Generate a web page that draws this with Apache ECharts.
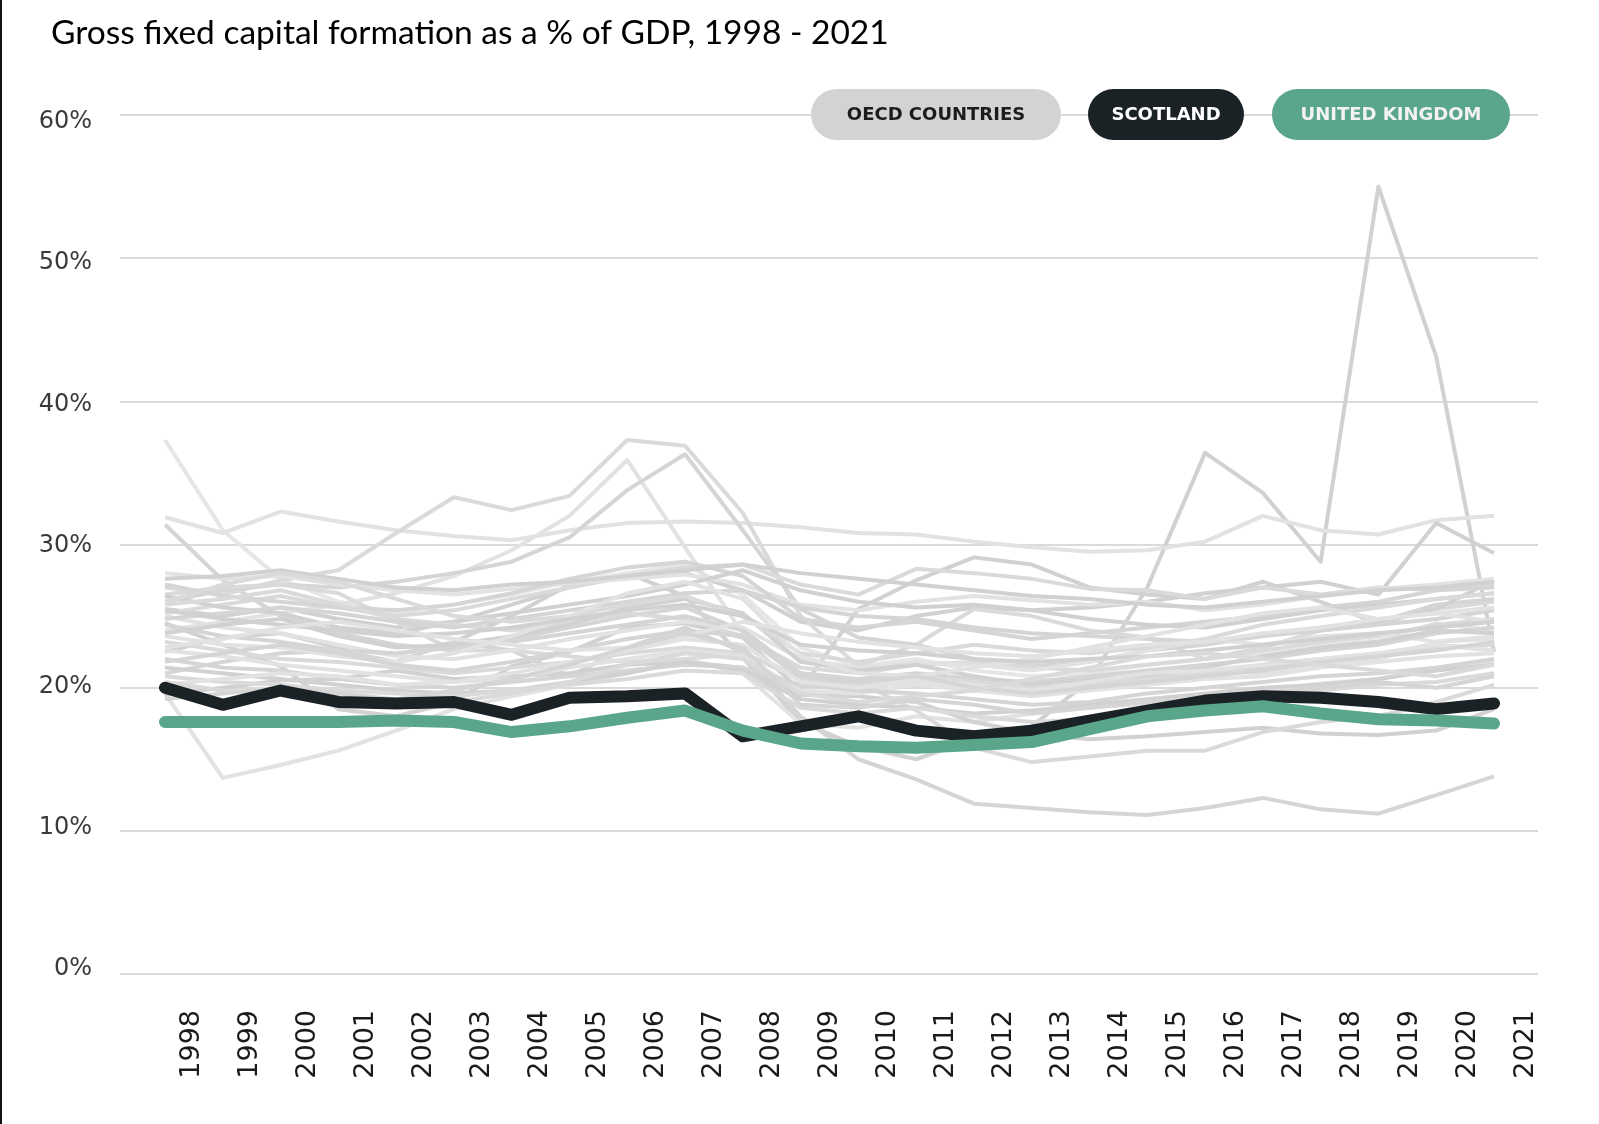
<!DOCTYPE html>
<html>
<head>
<meta charset="utf-8">
<title>Gross fixed capital formation</title>
<script src="https://cdn.jsdelivr.net/npm/echarts@6/dist/echarts.min.js"></script>
<style>
  html, body { margin: 0; padding: 0; background: #fff; }
  #chart { width: 1599px; height: 1124px; }
</style>
</head>
<body>
<div id="chart"></div>
<script>
// years on the x axis
const years = ['1998', '1999', '2000', '2001', '2002', '2003', '2004', '2005', '2006', '2007', '2008', '2009',
  '2010', '2011', '2012', '2013', '2014', '2015', '2016', '2017', '2018', '2019', '2020', '2021'];
const yTicks = [0, 10, 20, 30, 40, 50, 60];

// highlighted series (% of GDP)
const scotland = [20.0, 18.8, 19.8, 19.0, 18.9, 19.0, 18.1, 19.3, 19.4, 19.6, 16.6, 17.3, 18.0, 17.0, 16.6, 17.0, 17.7, 18.4, 19.1, 19.4, 19.3, 19.0, 18.5, 18.9];
const unitedKingdom = [17.6, 17.6, 17.6, 17.6, 17.7, 17.6, 16.9, 17.3, 17.9, 18.4, 17.0, 16.1, 15.9, 15.8, 16.0, 16.2, 17.1, 18.0, 18.4, 18.7, 18.2, 17.8, 17.7, 17.5];

// OECD countries (grey background lines)
const oecd01 = [22.5, 23.5, 23.8, 22.8, 22.3, 23.2, 25.0, 27.2, 28.0, 26.4, 22.1, 17.6, 15.9, 15.0, 16.4, 17.3, 20.5, 27.0, 36.4, 33.6, 28.8, 55.0, 43.1, 22.5];
const oecd02 = [37.3, 31.0, 27.6, 26.0, 25.2, 25.8, 26.5, 27.4, 28.0, 28.6, 26.5, 22.8, 21.5, 22.0, 21.2, 20.8, 21.0, 21.6, 22.0, 22.4, 23.0, 23.3, 24.5, 24.0];
const oecd03 = [31.9, 30.8, 32.3, 31.6, 31.0, 30.6, 30.3, 31.0, 31.5, 31.6, 31.5, 31.2, 30.8, 30.7, 30.2, 29.8, 29.5, 29.6, 30.2, 32.0, 31.0, 30.7, 31.7, 32.0];
const oecd04 = [31.4, 27.5, 25.0, 23.8, 23.0, 22.6, 23.4, 24.2, 25.0, 25.6, 24.0, 21.0, 20.5, 20.8, 20.2, 19.8, 20.0, 20.4, 20.8, 21.4, 21.8, 22.2, 23.0, 22.6];
const oecd05 = [25.5, 25.0, 25.6, 24.8, 24.2, 24.6, 25.8, 27.0, 27.8, 28.0, 26.8, 24.6, 24.0, 25.0, 25.6, 25.4, 25.6, 26.0, 26.6, 27.0, 27.4, 26.5, 31.5, 29.4];
const oecd06 = [27.0, 26.5, 27.5, 28.2, 30.8, 33.3, 32.4, 33.4, 37.3, 36.9, 32.2, 25.0, 21.5, 23.0, 25.5, 25.0, 24.0, 23.5, 22.0, 22.8, 24.0, 24.5, 25.5, 26.0];
const oecd07 = [24.0, 24.6, 25.2, 25.8, 26.6, 27.8, 29.6, 32.0, 35.9, 29.8, 23.8, 20.6, 20.0, 20.4, 19.8, 19.6, 20.2, 20.8, 21.2, 21.0, 21.6, 22.0, 23.2, 23.4];
const oecd08 = [26.0, 26.8, 27.2, 27.0, 27.4, 28.0, 28.8, 30.5, 33.8, 36.3, 31.0, 25.5, 23.5, 23.0, 22.0, 21.5, 21.8, 22.6, 23.0, 23.6, 24.2, 24.6, 25.8, 26.2];
const oecd09 = [24.5, 23.0, 21.5, 18.5, 18.0, 19.0, 21.5, 22.5, 24.2, 24.5, 23.5, 19.8, 25.5, 27.5, 29.1, 28.6, 27.0, 26.5, 26.2, 27.4, 26.0, 24.5, 25.5, 27.5];
const oecd10 = [25.2, 25.8, 26.4, 25.6, 25.0, 25.4, 26.2, 27.0, 27.8, 28.4, 28.6, 27.2, 26.5, 28.3, 28.0, 27.6, 26.9, 26.8, 26.2, 27.0, 26.5, 27.0, 26.8, 27.2];
const oecd11 = [19.6, 13.7, 14.6, 15.6, 17.0, 18.5, 19.4, 20.2, 21.0, 22.0, 21.0, 17.5, 17.2, 18.0, 17.6, 18.2, 18.6, 18.9, 19.4, 19.8, 20.3, 20.6, 21.4, 21.8];
const oecd12 = [21.0, 21.8, 22.4, 22.6, 21.8, 23.2, 22.6, 20.8, 22.8, 24.2, 22.5, 18.0, 15.0, 13.6, 11.9, 11.6, 11.3, 11.1, 11.6, 12.3, 11.5, 11.2, 12.5, 13.8];
const oecd13 = [19.5, 20.0, 20.5, 20.6, 21.2, 20.6, 20.8, 21.0, 21.6, 21.8, 21.4, 19.5, 19.4, 19.0, 17.6, 16.8, 16.4, 16.6, 16.9, 17.2, 16.8, 16.7, 17.0, 18.5];
const oecd14 = [26.5, 27.0, 27.2, 26.6, 24.6, 22.6, 22.6, 22.2, 21.8, 22.0, 22.4, 20.8, 20.4, 18.4, 15.8, 14.8, 15.2, 15.6, 15.6, 16.9, 17.6, 18.0, 19.0, 20.2];
const oecd15 = [28.0, 27.6, 27.8, 27.2, 26.8, 26.5, 26.9, 27.3, 27.6, 27.9, 27.2, 25.8, 25.4, 26.0, 26.4, 26.1, 25.8, 26.0, 25.4, 25.8, 26.4, 26.9, 27.2, 27.6];
const oecd16 = [27.2, 26.4, 26.0, 25.6, 25.4, 25.8, 26.6, 27.6, 28.4, 28.8, 27.8, 24.8, 24.2, 24.6, 24.0, 23.4, 23.8, 24.2, 24.6, 25.0, 25.6, 26.0, 26.8, 27.0];
const oecd17 = [26.4, 25.6, 25.2, 24.2, 23.8, 24.6, 25.2, 25.8, 26.4, 27.2, 28.2, 26.8, 26.0, 25.6, 25.8, 25.4, 24.8, 24.4, 24.2, 24.8, 25.4, 25.8, 26.2, 26.6];
const oecd18 = [25.8, 26.2, 26.8, 25.8, 24.8, 24.4, 24.0, 24.6, 25.2, 24.8, 23.6, 21.4, 21.0, 21.6, 21.8, 21.4, 21.2, 21.6, 22.0, 22.6, 23.2, 23.6, 24.4, 24.8];
const oecd19 = [25.0, 24.2, 23.8, 23.0, 22.2, 22.0, 22.6, 23.4, 24.0, 24.6, 24.2, 22.0, 21.4, 21.8, 21.6, 21.2, 21.8, 22.6, 23.4, 23.0, 23.6, 23.8, 23.2, 23.6];
const oecd20 = [24.4, 23.6, 23.2, 22.6, 22.4, 22.8, 23.2, 23.8, 24.4, 25.0, 24.0, 21.0, 20.6, 21.0, 20.6, 20.4, 20.8, 21.2, 21.6, 22.0, 22.6, 23.0, 23.8, 24.2];
const oecd21 = [23.8, 24.4, 24.8, 23.6, 22.8, 23.0, 23.6, 24.4, 25.6, 26.2, 25.2, 21.8, 21.2, 21.6, 20.8, 20.2, 20.6, 20.8, 21.4, 22.2, 22.8, 23.2, 24.0, 23.8];
const oecd22 = [23.2, 22.6, 22.0, 21.8, 21.4, 21.0, 21.4, 21.8, 22.4, 22.8, 22.4, 20.6, 20.2, 20.6, 20.4, 20.0, 20.2, 20.6, 21.0, 21.6, 22.0, 22.4, 22.8, 23.0];
const oecd23 = [22.6, 22.2, 21.6, 21.2, 20.8, 20.4, 20.6, 21.4, 22.0, 22.6, 22.2, 19.8, 19.6, 20.2, 19.8, 19.4, 19.8, 20.2, 20.6, 20.8, 21.4, 21.8, 22.2, 22.4];
const oecd24 = [22.0, 21.4, 21.2, 20.6, 20.2, 20.0, 20.4, 20.8, 21.2, 21.6, 21.4, 20.2, 19.8, 19.6, 19.2, 18.8, 19.0, 19.6, 20.0, 20.4, 20.8, 21.0, 21.4, 22.0];
const oecd25 = [21.4, 21.0, 20.6, 20.2, 19.8, 19.6, 19.8, 20.4, 21.0, 21.8, 21.2, 19.2, 18.8, 18.6, 18.2, 18.4, 18.8, 19.2, 19.6, 20.0, 20.2, 20.6, 21.2, 21.6];
const oecd26 = [20.8, 20.4, 20.2, 19.8, 19.6, 19.4, 19.8, 20.2, 20.6, 21.2, 21.0, 18.6, 18.2, 18.6, 18.0, 17.6, 17.8, 18.4, 18.8, 19.4, 19.8, 20.2, 20.4, 21.0];
const oecd27 = [20.2, 20.6, 21.0, 20.8, 20.2, 20.4, 21.0, 21.8, 22.6, 23.4, 23.0, 20.4, 20.0, 20.6, 20.2, 19.8, 20.4, 21.0, 21.2, 21.6, 22.0, 22.4, 23.0, 22.6];
const oecd28 = [24.8, 25.2, 25.6, 25.2, 24.6, 24.2, 24.8, 25.4, 26.0, 26.6, 26.8, 25.6, 25.0, 24.8, 24.2, 23.8, 23.6, 23.4, 23.2, 23.6, 24.0, 24.4, 24.8, 25.4];
const oecd29 = [27.6, 27.8, 28.2, 27.6, 27.0, 26.8, 27.2, 27.4, 27.8, 28.2, 28.6, 28.0, 27.6, 27.2, 26.8, 26.4, 26.2, 25.8, 25.6, 26.0, 26.4, 26.8, 27.0, 27.4];
const oecd30 = [26.0, 27.2, 28.0, 27.4, 26.2, 25.0, 24.6, 25.0, 25.8, 26.4, 25.0, 22.4, 21.8, 22.4, 23.0, 22.6, 22.4, 22.8, 23.4, 24.4, 25.0, 25.6, 26.2, 26.6];
const oecd31 = [23.6, 23.0, 22.8, 22.2, 21.8, 22.4, 23.6, 25.0, 26.6, 27.4, 26.2, 22.2, 21.0, 20.8, 21.4, 22.0, 22.8, 23.6, 24.4, 25.2, 25.6, 24.8, 25.2, 24.6];
const oecd32 = [21.8, 22.4, 23.0, 22.4, 21.6, 21.2, 21.8, 22.6, 23.4, 24.0, 23.6, 20.8, 20.4, 20.8, 20.0, 19.6, 20.0, 20.4, 20.8, 21.2, 21.8, 22.2, 22.6, 23.2];
const oecd33 = [25.4, 24.8, 24.4, 24.0, 23.6, 23.8, 24.2, 24.8, 25.4, 25.8, 25.0, 23.0, 22.6, 22.4, 22.0, 21.8, 22.0, 22.2, 22.6, 23.0, 23.4, 23.8, 24.2, 24.6];
const oecd34 = [20.4, 19.8, 19.6, 19.2, 18.8, 19.0, 19.6, 20.4, 21.6, 22.4, 22.0, 19.6, 19.0, 19.4, 19.8, 20.6, 21.4, 22.2, 22.4, 22.0, 21.6, 21.2, 20.8, 21.6];
const oecd35 = [22.8, 23.4, 24.2, 24.6, 24.0, 23.4, 23.0, 22.6, 22.8, 23.6, 24.6, 23.8, 23.2, 22.8, 22.4, 22.2, 22.6, 23.0, 23.2, 23.8, 24.2, 24.8, 25.2, 25.6];
const oecd36 = [19.2, 19.6, 20.0, 19.6, 19.2, 19.8, 20.6, 21.6, 22.8, 23.8, 22.8, 18.8, 18.6, 19.2, 18.8, 18.2, 18.6, 19.0, 19.2, 19.6, 20.0, 20.4, 20.0, 20.8];

const oecdLines = [oecd01, oecd02, oecd03, oecd04, oecd05, oecd06, oecd07, oecd08, oecd09, oecd10, oecd11, oecd12,
  oecd13, oecd14, oecd15, oecd16, oecd17, oecd18, oecd19, oecd20, oecd21, oecd22, oecd23, oecd24,
  oecd25, oecd26, oecd27, oecd28, oecd29, oecd30, oecd31, oecd32, oecd33, oecd34, oecd35, oecd36];

const greys = ['#d1d1d1', '#dadada', '#e2e2e2', '#d5d5d5'];
const SCOT = '#1b2226';
const UK = '#5aa68a';

const greySeries = oecdLines.map((d, i) => ({
  name: 'OECD COUNTRIES',
  type: 'line',
  xAxisIndex: 2,
  yAxisIndex: 2,
  data: d,
  symbol: 'none',
  silent: true,
  lineStyle: { width: 4, color: i === 1 ? '#e6e6e6' : greys[i % greys.length], join: 'round' },
}));

// pill shaped legend entries, drawn above the 60% grid line
const pill = (x, w, fill, label, textColor) => ({
  type: 'group',
  left: x,
  top: 89,
  z: 100,
  children: [
    { type: 'rect', z: 100, shape: { x: 0, y: 0, width: w, height: 51, r: 25.5 }, style: { fill: fill } },
    {
      type: 'text',
      z: 101,
      x: w / 2,
      y: 26,
      style: {
        text: label,
        font: 'bold 18px "DejaVu Sans"',
        fill: textColor,
        align: 'center',
        verticalAlign: 'middle',
        textAlign: 'center',
        textVerticalAlign: 'middle',
      },
    },
  ],
});

const chart = echarts.init(document.getElementById('chart'));
chart.setOption({
  animation: false,
  backgroundColor: '#fff',
  title: {
    text: 'Gross fixed capital formation as a % of GDP, 1998 - 2021',
    left: 46,
    top: 11,
    textStyle: { fontFamily: 'Lato', fontSize: 33.5, fontWeight: 'normal', color: '#000' },
  },
  graphic: [
    { type: 'rect', left: 0, top: 0, shape: { width: 2, height: 1124 }, style: { fill: '#111' }, z: 100 },
    pill(811, 250, '#d3d3d3', 'OECD COUNTRIES', '#1c1c1c'),
    pill(1088, 156, SCOT, 'SCOTLAND', '#ffffff'),
    pill(1272, 238, UK, 'UNITED KINGDOM', '#f2f2f2'),
  ],
  grid: [
    { left: 120, right: 61, top: 115, bottom: 150 }, // split lines
    { left: 120, right: 61, top: 122, bottom: 155 }, // y labels
    { left: 165, right: 105, top: 115, bottom: 150 }, // data
    { left: 192, right: 73, top: 115, bottom: 150 }, // x labels
  ],
  xAxis: [
    { gridIndex: 0, type: 'category', data: years, show: false },
    { gridIndex: 1, type: 'category', data: years, show: false },
    { gridIndex: 2, type: 'category', data: years, boundaryGap: false, show: false },
    {
      gridIndex: 3,
      type: 'category',
      data: years,
      boundaryGap: false,
      axisLine: { show: false },
      axisTick: { show: false },
      axisLabel: { interval: 0, rotate: 90, margin: 36, fontFamily: 'DejaVu Sans', fontSize: 27, color: '#1a1a1a' },
    },
  ],
  yAxis: [
    {
      gridIndex: 0,
      type: 'value',
      min: yTicks[0],
      max: yTicks[yTicks.length - 1],
      interval: 10,
      axisLabel: { show: false },
      axisLine: { show: false },
      axisTick: { show: false },
      splitLine: { lineStyle: { color: '#dadada', width: 2 } },
    },
    {
      gridIndex: 1,
      type: 'value',
      min: yTicks[0],
      max: yTicks[yTicks.length - 1],
      interval: 10,
      axisLine: { show: false },
      axisTick: { show: false },
      splitLine: { show: false },
      axisLabel: { formatter: '{value}%', margin: 28, fontFamily: 'DejaVu Sans', fontSize: 24, color: '#3a3a3a' },
    },
    { gridIndex: 2, type: 'value', min: 0, max: 60, show: false, splitLine: { show: false } },
    { gridIndex: 3, type: 'value', min: 0, max: 60, show: false, splitLine: { show: false } },
  ],
  series: greySeries.concat([
    {
      name: 'SCOTLAND',
      type: 'line',
      xAxisIndex: 2,
      yAxisIndex: 2,
      data: scotland,
      symbol: 'none',
      silent: true,
      z: 5,
      lineStyle: { width: 12, color: SCOT, cap: 'round', join: 'round' },
    },
    {
      name: 'UNITED KINGDOM',
      type: 'line',
      xAxisIndex: 2,
      yAxisIndex: 2,
      data: unitedKingdom,
      symbol: 'none',
      silent: true,
      z: 6,
      lineStyle: { width: 12, color: UK, cap: 'round', join: 'round' },
    },
  ]),
});
</script>
</body>
</html>
